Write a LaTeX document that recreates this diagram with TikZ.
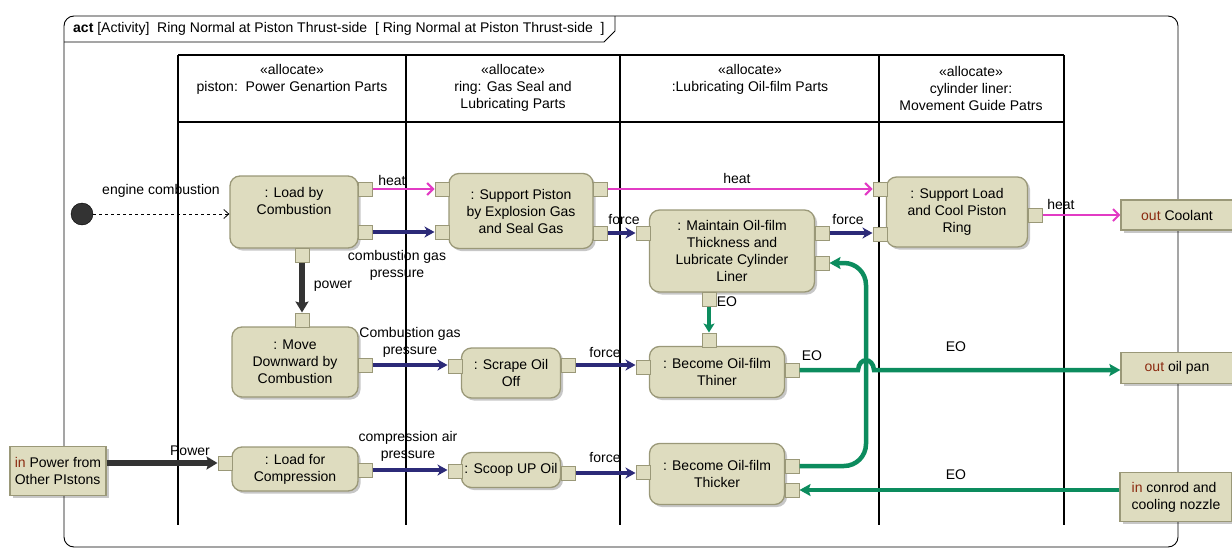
\documentclass[tikz,border=0pt]{standalone}
\usepackage{fontspec}
\setmainfont{Liberation Sans}
\usetikzlibrary{arrows.meta,shadows}
\definecolor{actfill}{HTML}{DEDCBF}
\definecolor{actdraw}{HTML}{9A9878}
\definecolor{heatc}{HTML}{E23BC4}
\definecolor{forcec}{HTML}{2C2A78}
\definecolor{eoc}{HTML}{0C8C5E}
\definecolor{kwc}{HTML}{8B2A10}
\definecolor{powc}{HTML}{333333}
\newcommand{\kw}[1]{\textcolor{kwc}{#1}}
\begin{document}
\begin{tikzpicture}[x=1pt,y=-1pt,
  font=\fontsize{14}{17}\selectfont,
  shade/.style={drop shadow={shadow xshift=2.5pt,shadow yshift=-2.5pt,fill=black,opacity=0.22}},
  act/.style={draw=actdraw,fill=actfill,line width=1.3pt,rounded corners=10pt,
    align=center,inner sep=2pt,shade},
  pin/.style={draw=actdraw,fill=actfill,line width=1pt,minimum size=14pt,inner sep=0pt},
  objn/.style={draw=actdraw,fill=actfill,line width=1.2pt,align=left,inner sep=4pt,shade},
  lbl/.style={align=center,inner sep=0pt},
  lane/.style={line width=1.6pt,black},
  heat/.style={heatc,line width=2pt,-{Straight Barb[length=6pt,width=12pt]}},
  force/.style={forcec,line width=3.5pt,-{Stealth[length=10pt,width=11pt,inset=3pt]}},
  eo/.style={eoc,line width=4.5pt,-{Stealth[length=11pt,width=12pt,inset=2pt]}},
  pow/.style={powc,line width=6pt,-{Stealth[length=11pt,width=13pt,inset=2pt]}},
]
\useasboundingbox (0,0) rectangle (1232,549);

% diagram frame and title tab
\draw[line width=0.9pt,rounded corners=10pt] (64,16) rectangle (1178,547);
\draw[line width=0.9pt] (64,42) -- (604,42) -- (615,31) -- (615,16);
\node[anchor=west,inner sep=0pt] (title) at (73,29)
  {\textbf{act} [Activity]\ \ Ring Normal at Piston Thrust-side\ \ [\ Ring Normal at Piston Thrust-side\ \ ]};

% swimlanes
\draw[lane,line width=2.2pt] (178,55) -- (1064,55);
\draw[lane] (178,122) -- (1064,122);
\foreach \lx in {178,406,620,879,1064} \draw[lane] (\lx,55) -- (\lx,525);
\node[lbl] (h1) at (292,79) {«allocate»\\piston:\ \ Power Genartion Parts};
\node[lbl] (h2) at (513,88) {«allocate»\\ring: Gas Seal and\\Lubricating Parts};
\node[lbl] (h3) at (750,79) {«allocate»\\:Lubricating Oil-film Parts};
\node[lbl] (h4) at (971,88) {«allocate»\\cylinder liner:\\Movement Guide Patrs};

% initial node
\node[circle,fill=powc,draw=black,minimum size=22pt,inner sep=0pt] (init) at (82,214) {};

% actions
\node[act,minimum width=128pt,minimum height=72pt] (lc) at (294,212) {: Load by\\Combustion\\[6pt]};
\node[act,minimum width=144pt,minimum height=75pt] (sp) at (521,211) {: Support Piston\\by Explosion Gas\\and Seal Gas};
\node[act,minimum width=165pt,minimum height=82pt] (mt) at (732,251) {: Maintain Oil-film\\Thickness and\\Lubricate Cylinder\\Liner};
\node[act,minimum width=141pt,minimum height=70pt] (sl) at (957,212) {: Support Load\\and Cool Piston\\Ring};
\node[act,minimum width=126pt,minimum height=70pt] (mv) at (295,362) {: Move\\Downward by\\Combustion};
\node[act,minimum width=99pt,minimum height=50pt] (sc) at (511,373) {: Scrape Oil\\Off};
\node[act,minimum width=135pt,minimum height=51pt] (th) at (717,372) {: Become Oil-film\\Thiner};
\node[act,minimum width=126pt,minimum height=44pt] (lcp) at (295,469) {: Load for\\Compression};
\node[act,minimum width=99pt,minimum height=35pt] (sco) at (511,470) {: Scoop UP Oil};
\node[act,minimum width=135pt,minimum height=61pt] (tk) at (717,474) {: Become Oil-film\\Thicker};

% pins
\node[pin] (lc-h) at (365,189) {};
\node[pin] (lc-p) at (365,232) {};
\node[pin] (lc-d) at (302,255) {};
\node[pin] (sp-hi) at (442,189) {};
\node[pin] (sp-pi) at (442,232) {};
\node[pin] (sp-ho) at (600,189) {};
\node[pin] (sp-fo) at (600,233) {};
\node[pin] (mt-fi) at (643,233) {};
\node[pin] (mt-fo) at (822,233) {};
\node[pin] (mt-ei) at (822,263) {};
\node[pin] (mt-d) at (709,299) {};
\node[pin] (sl-hi) at (880,189) {};
\node[pin] (sl-fi) at (880,234) {};
\node[pin] (sl-ho) at (1035,215) {};
\node[pin] (mv-u) at (302,320) {};
\node[pin] (mv-r) at (365,365) {};
\node[pin] (sc-l) at (455,366) {};
\node[pin] (sc-r) at (568,365) {};
\node[pin] (th-u) at (709,340) {};
\node[pin] (th-l) at (643,367) {};
\node[pin] (th-r) at (792,370) {};
\node[pin] (lcp-l) at (225,463) {};
\node[pin] (lcp-r) at (365,470) {};
\node[pin] (sco-l) at (455,471) {};
\node[pin] (sco-r) at (568,473) {};
\node[pin] (tk-l) at (643,472) {};
\node[pin] (tk-r1) at (792,466) {};
\node[pin] (tk-r2) at (792,490) {};

% object nodes at the diagram border
\node[objn,minimum width=112pt,minimum height=30pt,align=center] (coolant) at (1177,215) {\kw{out} Coolant};
\node[objn,minimum width=112pt,minimum height=31pt,align=center] (oilpan) at (1177,368) {\kw{out} oil pan};
\node[objn,minimum width=112pt,minimum height=49pt] (conrod) at (1176,497) {\kw{in} conrod and\\cooling nozzle};
\node[objn,minimum width=96pt,minimum height=49pt] (inpow) at (58,471) {\kw{in} Power from\\Other PIstons};

% flows
\draw[dashed,line width=0.8pt,-{Straight Barb[length=5pt,width=9pt]}] (init.east) -- (init -| lc.west);
\draw[heat] (lc-h.east) -- (lc-h.east -| sp-hi.west);
\draw[force] (lc-p.east) -- (lc-p.east -| sp-pi.west);
\draw[pow] (lc-d.south) -- (mv-u.north);
\draw[heat] (sp-ho.east) -- (sp-ho.east -| sl-hi.west);
\draw[force] (sp-fo.east) -- (sp-fo.east -| mt-fi.west);
\draw[force] (mt-fo.east) -- (mt-fo.east -| sl-fi.west);
\draw[heat] (sl-ho.east) -- (sl-ho.east -| coolant.west);
\draw[eo,-{Stealth[length=9pt,width=11pt,inset=2pt]}] (mt-d.south) -- (th-u.north);
\draw[force] (mv-r.east) -- (mv-r.east -| sc-l.west);
\draw[force] (sc-r.east) -- (sc-r.east -| th-l.west);
\draw[eo] (th-r.east) -- (858,370) .. controls (859,357) and (873,357) .. (874,370) -- (th-r.east -| oilpan.west);
\draw[eo,rounded corners=22pt] (tk-r1.east) -- (866,466) -- (866,263) -- (mt-ei.east);
\draw[eo] (tk-r2.east -| conrod.west) -- (tk-r2.east);
\draw[pow] (lcp-l.west -| inpow.east) -- (lcp-l.west);
\draw[force] (lcp-r.east) -- (lcp-r.east -| sco-l.west);
\draw[force] (sco-r.east) -- (sco-r.east -| tk-l.west);

% flow labels
\node[lbl] (t-ec) at (161,191) {engine combustion};
\node[lbl] (t-h1) at (392,180) {heat};
\node[lbl] (t-cg) at (397,265) {combustion gas\\pressure};
\node[lbl] (t-pw) at (333,286) {power};
\node[lbl] (t-h2) at (737,178) {heat};
\node[lbl] (t-f1) at (624,219) {force};
\node[lbl] (t-f2) at (848,219) {force};
\node[lbl] (t-h3) at (1061,204) {heat};
\node[lbl] (t-eo1) at (727,302) {EO};
\node[lbl] (t-cg2) at (410,342) {Combustion gas\\pressure};
\node[lbl] (t-f3) at (605,352) {force};
\node[lbl] (t-eo2) at (812,356) {EO};
\node[lbl] (t-eo3) at (956,347) {EO};
\node[lbl] (t-pw2) at (190,451) {Power};
\node[lbl] (t-ca) at (408,446) {compression air\\pressure};
\node[lbl] (t-f4) at (605,457) {force};
\node[lbl] (t-eo4) at (956,475) {EO};
\end{tikzpicture}
\end{document}
